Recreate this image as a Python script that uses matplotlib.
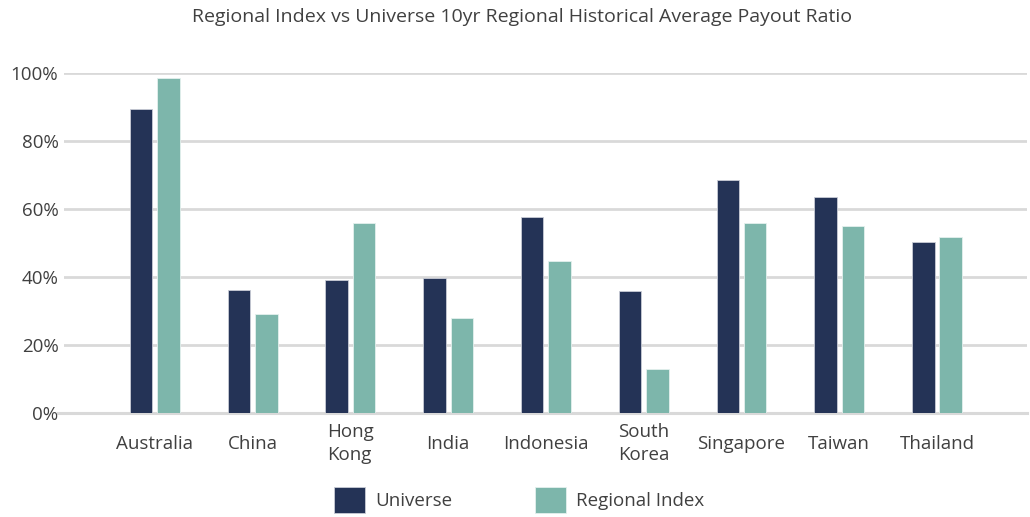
import numpy as np
import matplotlib
matplotlib.use("Agg")
import matplotlib.pyplot as plt
from matplotlib.ticker import PercentFormatter

# Data
countries = ["Australia", "China", "Hong\nKong", "India", "Indonesia",
             "South\nKorea", "Singapore", "Taiwan", "Thailand"]
universe = [89.3, 36.2, 39.1, 39.6, 57.6, 35.9, 68.4, 63.4, 50.2]
regional_index = [98.4, 29.1, 56.0, 28.0, 44.7, 12.9, 55.9, 55.0, 51.8]

NAVY = "#243356"
TEAL = "#7db6ab"
TEXT = "#404040"
GRID = "#d9d9d9"

plt.rcParams["font.family"] = ["Open Sans", "DejaVu Sans"]

fig = plt.figure(figsize=(10.3, 5.17), dpi=100)
ax = fig.add_axes([0.0621, 0.2012, 0.9349, 0.6576])

x = np.arange(len(countries))
w = 0.23
ax.bar(x - 0.14, universe, w, color=NAVY, edgecolor="#c8ccd6", linewidth=0.6,
       label="Universe", zorder=3)
ax.bar(x + 0.14, regional_index, w, color=TEAL, edgecolor="#e4f0ee", linewidth=0.6,
       label="Regional Index", zorder=3)

ax.set_xlim(-0.93, 8.92)
ax.set_ylim(0, 100)
ax.set_yticks(np.arange(0, 101, 20))
ax.yaxis.set_major_formatter(PercentFormatter(decimals=0))
ax.grid(axis="y", color=GRID, linewidth=2, zorder=0)
ax.plot([-0.006, 1], [0, 0], transform=ax.transAxes, color=GRID, linewidth=2.2,
        clip_on=False, zorder=1)
for s in ax.spines.values():
    s.set_visible(False)

ax.set_xticks(x)
ax.set_xticklabels(countries)
ax.tick_params(axis="both", length=0, labelsize=13.5, labelcolor=TEXT)
ax.tick_params(axis="y", pad=4)
ax.tick_params(axis="x", pad=22)
for lab in ax.get_xticklabels():
    lab.set_verticalalignment("center")
    lab.set_multialignment("left")
    lab.set_linespacing(1.3)

fig.text(0.507, 1 - 17 / 517, "Regional Index vs Universe 10yr Regional Historical Average Payout Ratio",
         ha="center", va="center", fontsize=14, color=TEXT)

fig.legend(loc="center", bbox_to_anchor=(0.504, 0.033), ncol=2, frameon=False,
           fontsize=13.5, labelcolor=TEXT, handlelength=1.65, handleheight=1.75,
           handletextpad=0.55, columnspacing=4.4)

fig.savefig("out.png", dpi=100)
